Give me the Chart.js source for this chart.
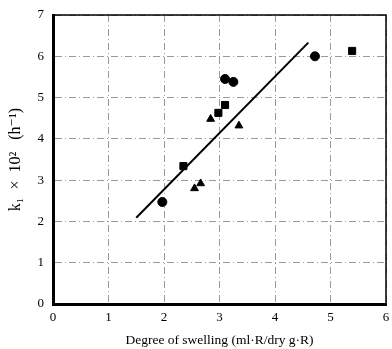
<!DOCTYPE html>
<html>
<head>
<meta charset="utf-8">
<script src="https://cdn.jsdelivr.net/npm/chart.js@4/dist/chart.umd.min.js"></script>
<style>
html,body{margin:0;padding:0;background:#fff;}
#c{display:block;}
</style>
</head>
<body>
<canvas id="c" width="392" height="349"></canvas>
<script>
const circles = [{x:1.97,y:2.47},{x:3.10,y:5.45},{x:3.25,y:5.38},{x:4.72,y:6.00}];
const squares = [{x:2.35,y:3.34},{x:2.98,y:4.63},{x:3.10,y:4.82},{x:5.39,y:6.13}];
const triangles = [{x:2.55,y:2.80},{x:2.66,y:2.92},{x:2.84,y:4.48},{x:3.35,y:4.32}];
const fitLine = [{x:1.50,y:2.09},{x:4.60,y:6.33}];
const xTitle = 'Degree of swelling (ml·R/dry g·R)';
const yTitle = 'k\u2081  \u00d7  10\u00b2   (h\u207b\u00b9)';

const frame = {
  id:'frame',
  afterDraw(chart){
    const a = chart.chartArea, ctx = chart.ctx;
    ctx.save();
    ctx.strokeStyle = '#000';
    ctx.lineWidth = 1.5;
    ctx.beginPath();
    ctx.moveTo(a.left, a.top); ctx.lineTo(a.right, a.top); ctx.lineTo(a.right, a.bottom);
    ctx.stroke();
    ctx.restore();
  }
};

const font = {family:'"Liberation Serif", "DejaVu Serif", serif', size:13};
new Chart(document.getElementById('c'), {
  type:'scatter',
  data:{datasets:[
    {data:circles, pointStyle:'circle', pointRadius:4.5, backgroundColor:'#000', borderColor:'#000'},
    {data:squares, pointStyle:'rect', pointRadius:5, backgroundColor:'#000', borderColor:'#000'},
    {data:triangles, pointStyle:'triangle', pointRadius:4.5, backgroundColor:'#000', borderColor:'#000'},
    {type:'line', data:fitLine, showLine:true, pointRadius:0, borderColor:'#000', borderWidth:2, fill:false}
  ]},
  options:{
    responsive:false, animation:false,
    layout:{padding:{left:0,right:5,top:15,bottom:0}},
    plugins:{legend:{display:false}, tooltip:{enabled:false}},
    scales:{
      x:{type:'linear', min:0, max:6,
        ticks:{stepSize:1, color:'#000', font:font, padding:6},
        grid:{color:'#9a9a9a', lineWidth:1, drawTicks:false},
        border:{color:'#000', width:3, dash:[7,3,1,3]},
        title:{display:true, text:xTitle, color:'#000', font:{family:font.family,size:13.5}, padding:{top:0,bottom:0}},
        afterFit(s){s.height=45; s.paddingRight=0; s.paddingLeft=0;}
      },
      y:{type:'linear', min:0, max:7,
        ticks:{stepSize:1, color:'#000', font:font, padding:9},
        grid:{color:'#9a9a9a', lineWidth:1, drawTicks:false},
        border:{color:'#000', width:3, dash:[7,3,1,3]},
        title:{display:true, text:yTitle, color:'#000', font:{family:font.family,size:16}, padding:{top:6,bottom:2}},
        afterFit(s){s.width=53; s.paddingTop=0; s.paddingBottom=0;}
      }
    }
  },
  plugins:[frame]
});
</script>
</body>
</html>
